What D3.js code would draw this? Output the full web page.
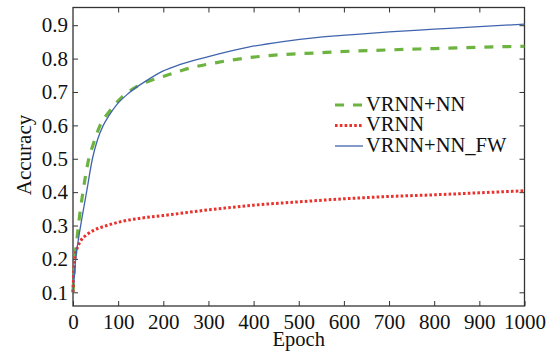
<!DOCTYPE html>
<html>
<head>
<meta charset="utf-8">
<script src="https://cdn.jsdelivr.net/npm/d3@7"></script>
<style>
  body { margin: 0; background: #fff; }
  svg { display: block; }
  text { font-family: "Liberation Serif", "Times New Roman", serif; fill: #111; }
</style>
</head>
<body>
<div id="chart"></div>
<script>
// 数据
const seriesNames = ['VRNN+NN', 'VRNN', 'VRNN+NN_FW'];
const xTicks = [0, 100, 200, 300, 400, 500, 600, 700, 800, 900, 1000];
const yTicks = [0.1, 0.2, 0.3, 0.4, 0.5, 0.6, 0.7, 0.8, 0.9];

const vrnnNN = [[0, 0.1], [2, 0.15], [4, 0.2], [8, 0.25], [12, 0.3], [22, 0.4], [35, 0.5], [44, 0.54],
  [60, 0.6], [82, 0.644], [108, 0.684], [141, 0.716], [178, 0.737], [222, 0.756], [244, 0.766],
  [318, 0.788], [391, 0.803], [465, 0.812], [538, 0.817], [612, 0.822], [700, 0.826], [800, 0.830],
  [900, 0.834], [1000, 0.837]];
const vrnn = [[0, 0.1], [2, 0.17], [5, 0.21], [10, 0.235], [16, 0.252], [30, 0.272], [45, 0.285],
  [75, 0.300], [104, 0.311], [150, 0.322], [200, 0.330], [300, 0.347], [400, 0.361], [500, 0.371],
  [600, 0.380], [700, 0.387], [800, 0.392], [900, 0.398], [1000, 0.404]];
const vrnnNNFW = [[0, 0.1], [3, 0.15], [6, 0.2], [11, 0.25], [17, 0.3], [30, 0.4], [43, 0.5], [55, 0.56],
  [67, 0.6], [80, 0.63], [97, 0.662], [123, 0.696], [163, 0.734], [200, 0.763], [236, 0.782],
  [300, 0.806], [391, 0.835], [465, 0.851], [538, 0.863], [612, 0.871], [700, 0.880], [800, 0.888],
  [900, 0.896], [1000, 0.903]];

const W = 557, H = 359;
const pLeft = 73, pRight = 524.5, pTop = 7.5, pBottom = 306;

let svg = d3.select('#chart').append('svg').attr('width', W).attr('height', H);

let x = d3.scaleLinear().domain([0, 1000]).range([pLeft, pRight]);
let y = d3.scaleLinear().domain([0.059, 0.953]).range([pBottom, pTop]);

//坐标轴
let axisColor = '#333';
let fs = 21;
function styleAxis(g) {
    g.select('.domain').remove();
    g.selectAll('.tick line').attr('stroke', axisColor).attr('stroke-width', 1);
    g.selectAll('.tick text').style('font-size', fs + 'px').attr('fill', '#111');
}
svg.append('g').attr('transform', 'translate(0,' + pBottom + ')')
    .call(d3.axisBottom(x).tickValues(xTicks).tickSize(-5).tickPadding(8).tickFormat(d3.format('d')))
    .call(styleAxis);
svg.append('g').attr('transform', 'translate(0,' + pTop + ')')
    .call(d3.axisTop(x).tickValues(xTicks.slice(1, -1)).tickSize(-5).tickFormat(''))
    .call(styleAxis);
svg.append('g').attr('transform', 'translate(' + pLeft + ',0)')
    .call(d3.axisLeft(y).tickValues(yTicks).tickSize(-5).tickPadding(5).tickFormat(d3.format('.1f')))
    .call(styleAxis);
svg.append('g').attr('transform', 'translate(' + pRight + ',0)')
    .call(d3.axisRight(y).tickValues(yTicks).tickSize(-5).tickFormat(''))
    .call(styleAxis);

//边框
svg.append('rect')
    .attr('x', pLeft).attr('y', pTop)
    .attr('width', pRight - pLeft).attr('height', pBottom - pTop)
    .attr('fill', 'none').attr('stroke', axisColor).attr('stroke-width', 1.3);

//曲线
let line = d3.line()
    .x(function (d) { return x(d[0]) })
    .y(function (d) { return y(d[1]) })
    .curve(d3.curveMonotoneX);

let styles = [
    {data: vrnnNN, color: '#6db33f', width: 3.2, dash: '9,9'},
    {data: vrnn, color: '#e8322b', width: 3, dash: '2.6,2.2'},
    {data: vrnnNNFW, color: '#4064ad', width: 1.3, dash: null}
];

let g = svg.append('g');
styles.forEach(function (s) {
    g.append('path')
        .attr('d', line(s.data))
        .attr('fill', 'none')
        .attr('stroke', s.color)
        .attr('stroke-width', s.width)
        .attr('stroke-dasharray', s.dash);
});

//图例
let legend = svg.append('g');
seriesNames.forEach(function (name, i) {
    let by = 110.5 + i * 20.5;
    let s = styles[i];
    legend.append('line')
        .attr('x1', 335).attr('x2', 363)
        .attr('y1', by - 5.5).attr('y2', by - 5.5)
        .attr('stroke', s.color)
        .attr('stroke-width', s.width)
        .attr('stroke-dasharray', s.dash);
    legend.append('text')
        .attr('x', 366).attr('y', by)
        .style('font-size', '20.5px')
        .text(name);
});

//坐标轴标题
svg.append('text')
    .attr('x', (pLeft + pRight) / 2).attr('y', 346)
    .attr('text-anchor', 'middle')
    .style('font-size', '20.5px')
    .text('Epoch');
svg.append('text')
    .attr('transform', 'translate(31,155) rotate(-90)')
    .attr('text-anchor', 'middle')
    .style('font-size', fs + 'px')
    .text('Accuracy');
</script>
</body>
</html>
